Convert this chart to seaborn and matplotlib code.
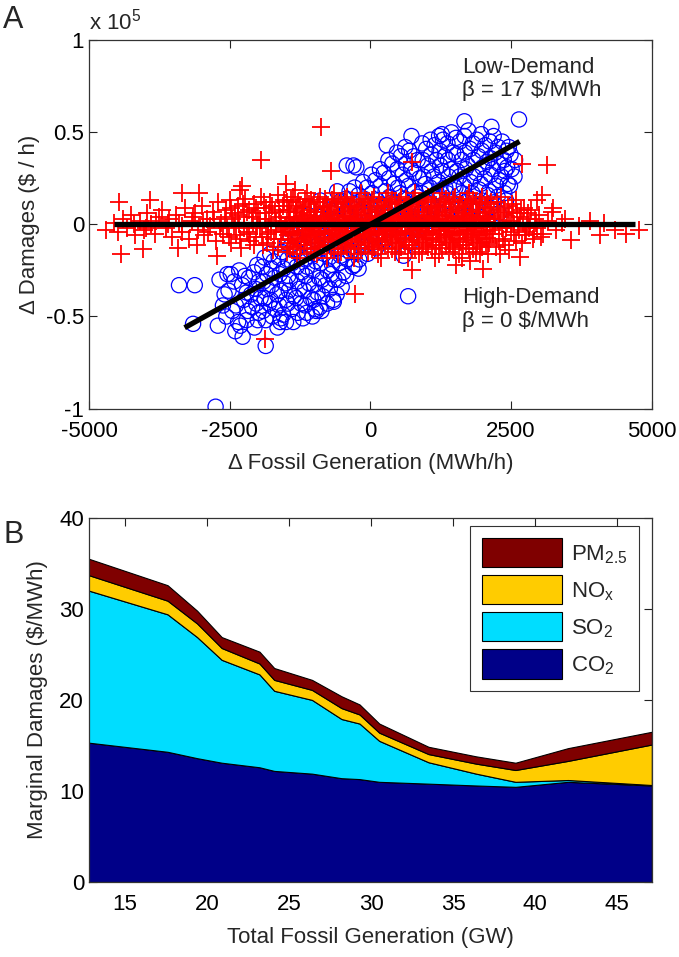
"""
Two-panel figure: marginal damages vs fossil generation.
A: hourly changes in damages vs changes in fossil generation (low / high demand)
B: stacked marginal damages by pollutant vs total fossil generation
"""

import matplotlib
matplotlib.use("Agg")
import matplotlib.pyplot as plt
import matplotlib.patches as mpatches
import numpy as np
import pandas as pd
import seaborn as sns

OUT = "out.png"

# ---- panel A data (x: MWh/h, y: $/h in units of 1e5) ----
low_demand_pts = [
    # sparse / outlying circles
    (-2750, -0.99), (-3400, -0.33), (-3120, -0.33), (-3150, -0.54), (-2710, -0.55),
    (-1860, -0.66), (-2270, -0.61), (670, -0.39), (2640, 0.57), (1670, 0.56),
    (730, 0.48), (290, 0.43), (2150, 0.53), (1270, 0.49), (-420, 0.32), (-250, 0.31),
    (2390, 0.29), (2460, 0.42), (-2540, -0.27), (-650, -0.42), (-960, -0.47),
    (-1500, -0.53), (-210, -0.24), (590, -0.17), (-2310, -0.55), (-1370, -0.53),
    (-1600, -0.53), (-980, -0.46), (-660, -0.41), (-890, 0.13), (-590, 0.18),
    (-300, 0.32), (-1100, 0.05),
    # main cloud
    (-2680, -0.30), (-2620, -0.44),
    (-2480, -0.27), (-2520, -0.36), (-2450, -0.47), (-2400, -0.58),
    (-2330, -0.25), (-2280, -0.33), (-2250, -0.41), (-2200, -0.52),
    (-2160, -0.29), (-2120, -0.38), (-2100, -0.45), (-2060, -0.56),
    (-2010, -0.22), (-1980, -0.31), (-1950, -0.40), (-1990, -0.48),
    (-1880, -0.18), (-1840, -0.27), (-1830, -0.35), (-1800, -0.43), (-1860, -0.52),
    (-1720, -0.20), (-1700, -0.29), (-1660, -0.38), (-1690, -0.46), (-1650, -0.56),
    (-1570, -0.15), (-1540, -0.24), (-1520, -0.32), (-1500, -0.41), (-1550, -0.49),
    (-1420, -0.12), (-1390, -0.21), (-1430, -0.30), (-1360, -0.39), (-1400, -0.46),
    (-1270, -0.08), (-1240, -0.17), (-1220, -0.26), (-1260, -0.35), (-1230, -0.43), (-1200, -0.51),
    (-1110, -0.05), (-1080, -0.14), (-1120, -0.23), (-1090, -0.32), (-1060, -0.40), (-1130, -0.48),
    (-950, -0.02), (-930, -0.11), (-970, -0.20), (-910, -0.29), (-940, -0.37), (-900, -0.45),
    (-810, 0.02), (-780, -0.07), (-820, -0.16), (-760, -0.25), (-800, -0.33), (-770, -0.43),
    (-660, 0.06), (-630, -0.04), (-610, -0.13), (-680, -0.22), (-640, -0.30), (-600, -0.38),
    (-520, 0.13), (-490, 0.01), (-470, -0.08), (-530, -0.17), (-480, -0.26), (-510, -0.34),
    (-370, 0.18), (-340, 0.04), (-330, -0.06), (-360, -0.15), (-320, -0.23),
    (-210, 0.16), (-180, 0.07), (-220, -0.02), (-170, -0.11), (-200, -0.19),
    (-60, 0.20), (-30, 0.10), (-70, 0.01), (-20, -0.08), (-50, -0.16),
    (90, 0.24), (120, 0.13), (80, 0.04), (130, -0.05), (100, -0.13),
    (240, 0.28), (270, 0.18), (230, 0.09), (280, 0.00), (250, -0.09),
    (390, 0.33), (420, 0.22), (380, 0.12), (430, 0.03), (400, -0.06),
    (540, 0.37), (570, 0.27), (530, 0.17), (580, 0.08), (560, -0.02),
    (690, 0.40), (720, 0.30), (680, 0.21), (730, 0.11), (700, 0.02), (710, -0.10),
    (840, 0.35), (870, 0.25), (830, 0.15), (880, 0.06), (850, -0.03),
    (990, 0.41), (1020, 0.32), (980, 0.22), (1030, 0.13), (1000, 0.04),
    (1140, 0.43), (1170, 0.35), (1130, 0.26), (1180, 0.17), (1150, 0.08),
    (1290, 0.46), (1320, 0.37), (1280, 0.29), (1330, 0.20), (1300, 0.11), (1310, 0.03),
    (1440, 0.50), (1470, 0.39), (1430, 0.30), (1480, 0.21), (1450, 0.12),
    (1590, 0.45), (1620, 0.35), (1580, 0.26), (1630, 0.17), (1600, 0.08),
    (1740, 0.51), (1770, 0.41), (1730, 0.32), (1780, 0.23), (1750, 0.14), (1760, 0.05),
    (1890, 0.46), (1920, 0.37), (1880, 0.28), (1930, 0.19), (1900, 0.10),
    (2040, 0.43), (2070, 0.34), (2030, 0.25), (2080, 0.16), (2050, 0.07),
    (2190, 0.48), (2220, 0.39), (2180, 0.30), (2230, 0.21), (2200, 0.12),
    (2340, 0.45), (2370, 0.35), (2330, 0.26), (2380, 0.17),
    (2490, 0.38), (2510, 0.30), (2480, 0.21),
    # filling in between
    (-2590, -0.38), (-2560, -0.50), (-2420, -0.31), (-2390, -0.44), (-2350, -0.53),
    (-2230, -0.28), (-2200, -0.37), (-2180, -0.47), (-2070, -0.26), (-2040, -0.35),
    (-2030, -0.43), (-2000, -0.52), (-1920, -0.23), (-1900, -0.31), (-1880, -0.40),
    (-1910, -0.47), (-1780, -0.16), (-1760, -0.24), (-1750, -0.33), (-1770, -0.41),
    (-1740, -0.50), (-1630, -0.18), (-1610, -0.27), (-1600, -0.36), (-1620, -0.44),
    (-1590, -0.51), (-1480, -0.10), (-1470, -0.19), (-1460, -0.28), (-1450, -0.36),
    (-1470, -0.43), (-1330, -0.06), (-1320, -0.14), (-1310, -0.23), (-1300, -0.31),
    (-1320, -0.40), (-1290, -0.48), (-1180, -0.03), (-1170, -0.10), (-1160, -0.19),
    (-1150, -0.28), (-1170, -0.36), (-1160, -0.44), (-1020, 0.00), (-1010, -0.08),
    (-1000, -0.16), (-1020, -0.25), (-1000, -0.33), (-1010, -0.41), (-1030, -0.50),
    (-880, 0.04), (-870, -0.04), (-860, -0.13), (-880, -0.21), (-860, -0.30),
    (-850, -0.39), (-870, -0.47), (-730, 0.08), (-720, -0.01), (-710, -0.10),
    (-730, -0.18), (-700, -0.27), (-720, -0.35), (-580, 0.10), (-570, 0.03),
    (-560, -0.05), (-580, -0.13), (-550, -0.21), (-570, -0.30), (-430, 0.14),
    (-420, 0.07), (-410, -0.03), (-440, -0.11), (-410, -0.19), (-430, -0.28),
    (-280, 0.20), (-270, 0.11), (-260, 0.02), (-290, -0.07), (-260, -0.15),
    (-280, -0.22), (-130, 0.23), (-120, 0.14), (-110, 0.05), (-140, -0.04),
    (-110, -0.12), (20, 0.27), (30, 0.17), (40, 0.08), (10, -0.01), (40, -0.10),
    (170, 0.30), (180, 0.21), (190, 0.11), (160, 0.02), (180, -0.06),
    (320, 0.35), (330, 0.25), (340, 0.15), (310, 0.06), (330, -0.03),
    (470, 0.39), (480, 0.30), (490, 0.20), (460, 0.11), (480, 0.02),
    (620, 0.42), (630, 0.33), (640, 0.24), (610, 0.14), (630, 0.05),
    (770, 0.37), (780, 0.28), (790, 0.18), (760, 0.09), (780, 0.00),
    (920, 0.44), (930, 0.35), (940, 0.26), (910, 0.17), (930, 0.08), (920, -0.01),
    (1070, 0.46), (1080, 0.38), (1090, 0.29), (1060, 0.20), (1080, 0.11), (1070, 0.02),
    (1220, 0.48), (1230, 0.40), (1240, 0.32), (1210, 0.23), (1230, 0.14), (1220, 0.06),
    (1370, 0.44), (1380, 0.35), (1390, 0.26), (1360, 0.17), (1380, 0.08),
    (1520, 0.47), (1530, 0.38), (1540, 0.29), (1510, 0.20), (1530, 0.11), (1520, 0.03),
    (1670, 0.48), (1680, 0.39), (1690, 0.30), (1660, 0.21), (1680, 0.12), (1670, 0.04),
    (1820, 0.44), (1830, 0.35), (1840, 0.26), (1810, 0.17), (1830, 0.08),
    (1970, 0.49), (1980, 0.40), (1990, 0.31), (1960, 0.22), (1980, 0.13), (1970, 0.04),
    (2120, 0.45), (2130, 0.36), (2140, 0.27), (2110, 0.18), (2130, 0.09),
    (2270, 0.42), (2280, 0.33), (2290, 0.24), (2260, 0.15), (2280, 0.06),
    (2420, 0.40), (2430, 0.31), (2440, 0.22), (2410, 0.13),
    (2570, 0.35), (2560, 0.26),
]

high_demand_pts = [
    # outlying crosses
    (-885, 0.53), (-1946, 0.35), (2692, 0.33), (3131, 0.32), (2962, 0.135),
    (3231, 0.07), (4154, 0.01), (4346, -0.03), (4769, -0.03), (4077, -0.06),
    (4538, -0.05), (3562, -0.085), (3023, -0.07), (2654, -0.175), (2000, -0.24),
    (1523, -0.22), (731, -0.245), (-269, -0.38), (-1869, -0.62), (-4462, 0.12),
    (-3923, 0.13), (-4423, -0.16), (-4038, -0.135), (-4692, -0.03), (-3423, -0.13),
    (-3346, 0.17), (-3038, 0.17), (-2308, 0.185), (-1500, 0.22), (-1346, 0.185),
    (-692, 0.29), (731, 0.34), (-2717, -0.17), (-3072, -0.11), (-2273, 0.21),
    (3410, 0.01), (3250, 0.09), (3055, 0.16), (2309, -0.16), (1776, -0.20),
    # left wing
    (-4560, 0.01), (-4480, -0.04), (-4400, 0.03), (-4320, -0.02), (-4250, 0.05),
    (-4180, -0.06), (-4100, 0.02), (-4030, -0.03), (-3960, 0.06), (-3890, 0.00),
    (-3820, -0.05), (-3760, 0.04), (-3700, 0.08), (-3640, -0.02), (-3580, 0.03),
    (-3520, -0.07), (-3460, 0.05), (-3400, 0.01), (-3340, -0.04), (-3290, 0.09),
    (-3230, -0.08), (-3170, 0.02), (-3110, 0.06), (-3060, -0.03), (-3000, 0.10),
    (-2950, -0.06), (-2900, 0.03), (-2850, -0.01), (-2800, 0.07), (-2750, -0.09),
    (-2700, 0.12), (-2650, 0.01), (-2610, -0.05),
    (-4200, 0.00), (-3980, -0.02), (-3800, 0.02), (-3600, 0.00), (-3350, -0.01),
    (-3150, 0.04), (-2980, 0.01), (-2880, -0.04), (-2780, 0.03), (-2680, -0.02),
    (-2560, 0.08), (-2540, -0.02), (-2500, 0.13), (-2480, -0.10), (-2450, 0.03),
    (-2400, 0.06), (-2380, -0.06), (-2350, 0.10), (-2330, 0.00), (-2290, -0.13),
    (-2250, 0.04), (-2220, 0.14), (-2190, -0.04), (-2160, 0.08), (-2130, -0.09),
    (-2090, 0.01), (-2060, 0.11), (-2030, -0.07), (-2000, 0.06), (-1970, -0.02),
    (-1940, 0.15), (-1910, -0.11), (-1880, 0.03), (-1850, 0.09), (-1820, -0.05),
    (-1790, 0.12), (-1760, 0.00), (-1730, -0.14), (-1700, 0.07), (-1670, -0.03),
    (-1640, 0.16), (-1610, 0.04), (-1580, -0.08), (-1550, 0.10), (-1520, -0.01),
    (-2590, 0.04), (-2520, -0.07), (-2470, 0.09), (-2420, -0.01), (-2360, 0.05),
    (-2310, -0.08), (-2270, 0.11), (-2240, -0.02), (-2200, 0.07), (-2150, -0.05),
    (-2110, 0.04), (-2070, -0.11), (-2040, 0.09), (-2010, -0.01), (-1960, 0.03),
    (-1930, -0.07), (-1890, 0.12), (-1860, 0.00), (-1830, -0.10), (-1800, 0.06),
    (-1770, -0.04), (-1740, 0.10), (-1710, -0.08), (-1680, 0.02), (-1650, -0.12),
    (-1620, 0.08), (-1590, 0.00), (-1560, -0.04), (-1530, 0.13),
    # dense core
    (-1490, -0.15), (-1470, -0.10), (-1460, -0.06), (-1500, -0.02), (-1480, 0.02), (-1450, 0.07), (-1490, 0.12),
    (-1370, -0.12), (-1340, -0.08), (-1380, -0.04), (-1350, 0.00), (-1360, 0.04), (-1330, 0.09), (-1370, 0.15),
    (-1250, -0.18), (-1230, -0.11), (-1220, -0.05), (-1260, -0.01), (-1240, 0.03), (-1210, 0.06), (-1250, 0.10),
    (-1130, -0.13), (-1100, -0.07), (-1140, -0.03), (-1110, 0.01), (-1120, 0.05), (-1090, 0.11), (-1130, 0.17),
    (-1010, -0.15), (-990, -0.10), (-980, -0.06), (-1020, -0.02), (-1000, 0.02), (-970, 0.07), (-1010, 0.12),
    (-890, -0.12), (-860, -0.08), (-900, -0.04), (-870, 0.00), (-880, 0.04), (-850, 0.09), (-890, 0.15),
    (-770, -0.18), (-750, -0.11), (-740, -0.05), (-780, -0.01), (-760, 0.03), (-730, 0.06), (-770, 0.10),
    (-650, -0.13), (-620, -0.07), (-660, -0.03), (-630, 0.01), (-640, 0.05), (-610, 0.11), (-650, 0.17),
    (-530, -0.15), (-510, -0.10), (-500, -0.06), (-540, -0.02), (-520, 0.02), (-490, 0.07), (-530, 0.12),
    (-410, -0.12), (-380, -0.08), (-420, -0.04), (-390, 0.00), (-400, 0.04), (-370, 0.09), (-410, 0.15),
    (-290, -0.18), (-270, -0.11), (-260, -0.05), (-300, -0.01), (-280, 0.03), (-250, 0.06), (-290, 0.10),
    (-170, -0.13), (-140, -0.07), (-180, -0.03), (-150, 0.01), (-160, 0.05), (-130, 0.11), (-170, 0.17),
    (-50, -0.15), (-30, -0.10), (-20, -0.06), (-60, -0.02), (-40, 0.02), (-10, 0.07), (-50, 0.12),
    (70, -0.12), (100, -0.08), (60, -0.04), (90, 0.00), (80, 0.04), (110, 0.09), (70, 0.15),
    (190, -0.18), (210, -0.11), (220, -0.05), (180, -0.01), (200, 0.03), (230, 0.06), (190, 0.10),
    (310, -0.13), (340, -0.07), (300, -0.03), (330, 0.01), (320, 0.05), (350, 0.11), (310, 0.17),
    (430, -0.15), (450, -0.10), (460, -0.06), (420, -0.02), (440, 0.02), (470, 0.07), (430, 0.12),
    (550, -0.12), (580, -0.08), (540, -0.04), (570, 0.00), (560, 0.04), (590, 0.09), (550, 0.15),
    (670, -0.18), (690, -0.11), (700, -0.05), (660, -0.01), (680, 0.03), (710, 0.06), (670, 0.10),
    (790, -0.13), (820, -0.07), (780, -0.03), (810, 0.01), (800, 0.05), (830, 0.11), (790, 0.17),
    (910, -0.15), (930, -0.10), (940, -0.06), (900, -0.02), (920, 0.02), (950, 0.07), (910, 0.12),
    (1030, -0.12), (1060, -0.08), (1020, -0.04), (1050, 0.00), (1040, 0.04), (1070, 0.09), (1030, 0.15),
    (1150, -0.18), (1170, -0.11), (1180, -0.05), (1140, -0.01), (1160, 0.03), (1190, 0.06), (1150, 0.10),
    (1270, -0.13), (1300, -0.07), (1260, -0.03), (1290, 0.01), (1280, 0.05), (1310, 0.11), (1270, 0.17),
    (1390, -0.15), (1410, -0.10), (1420, -0.06), (1380, -0.02), (1400, 0.02), (1430, 0.07), (1390, 0.12),
    (1510, -0.12), (1540, -0.08), (1500, -0.04), (1530, 0.00), (1520, 0.04), (1550, 0.09), (1510, 0.15),
    (1630, -0.18), (1650, -0.11), (1660, -0.05), (1620, -0.01), (1640, 0.03), (1670, 0.06), (1630, 0.10),
    (1750, -0.13), (1780, -0.07), (1740, -0.03), (1770, 0.01), (1760, 0.05), (1790, 0.11), (1750, 0.17),
    (1870, -0.15), (1890, -0.10), (1900, -0.06), (1860, -0.02), (1880, 0.02), (1910, 0.07), (1870, 0.12),
    (1990, -0.12), (2020, -0.08), (1980, -0.04), (2010, 0.00), (2000, 0.04), (2030, 0.09), (1990, 0.15),
    (2090, -0.16), (2110, -0.10), (2120, -0.05), (2080, -0.01), (2100, 0.03), (2130, 0.06), (2090, 0.11),
    # dense core, second pass
    (-1420, -0.135), (-1410, -0.085), (-1430, -0.045), (-1400, -0.005), (-1420, 0.035), (-1440, 0.08), (-1410, 0.135),
    (-1300, -0.16), (-1290, -0.095), (-1310, -0.055), (-1280, -0.015), (-1300, 0.025), (-1320, 0.065), (-1290, 0.12),
    (-1180, -0.11), (-1170, -0.075), (-1190, -0.035), (-1160, 0.015), (-1180, 0.045), (-1200, 0.095), (-1170, 0.14),
    (-1060, -0.135), (-1050, -0.085), (-1070, -0.045), (-1040, -0.005), (-1060, 0.035), (-1080, 0.08), (-1050, 0.135),
    (-940, -0.16), (-930, -0.095), (-950, -0.055), (-920, -0.015), (-940, 0.025), (-960, 0.065), (-930, 0.12),
    (-820, -0.11), (-810, -0.075), (-830, -0.035), (-800, 0.015), (-820, 0.045), (-840, 0.095), (-810, 0.14),
    (-700, -0.135), (-690, -0.085), (-710, -0.045), (-680, -0.005), (-700, 0.035), (-720, 0.08), (-690, 0.135),
    (-580, -0.16), (-570, -0.095), (-590, -0.055), (-560, -0.015), (-580, 0.025), (-600, 0.065), (-570, 0.12),
    (-460, -0.11), (-450, -0.075), (-470, -0.035), (-440, 0.015), (-460, 0.045), (-480, 0.095), (-450, 0.14),
    (-340, -0.135), (-330, -0.085), (-350, -0.045), (-320, -0.005), (-340, 0.035), (-360, 0.08), (-330, 0.135),
    (-220, -0.16), (-210, -0.095), (-230, -0.055), (-200, -0.015), (-220, 0.025), (-240, 0.065), (-210, 0.12),
    (-100, -0.11), (-90, -0.075), (-110, -0.035), (-80, 0.015), (-100, 0.045), (-120, 0.095), (-90, 0.14),
    (20, -0.135), (30, -0.085), (10, -0.045), (40, -0.005), (20, 0.035), (0, 0.08), (30, 0.135),
    (140, -0.16), (150, -0.095), (130, -0.055), (160, -0.015), (140, 0.025), (120, 0.065), (150, 0.12),
    (260, -0.11), (270, -0.075), (250, -0.035), (280, 0.015), (260, 0.045), (240, 0.095), (270, 0.14),
    (380, -0.135), (390, -0.085), (370, -0.045), (400, -0.005), (380, 0.035), (360, 0.08), (390, 0.135),
    (500, -0.16), (510, -0.095), (490, -0.055), (520, -0.015), (500, 0.025), (480, 0.065), (510, 0.12),
    (620, -0.11), (630, -0.075), (610, -0.035), (640, 0.015), (620, 0.045), (600, 0.095), (630, 0.14),
    (740, -0.135), (750, -0.085), (730, -0.045), (760, -0.005), (740, 0.035), (720, 0.08), (750, 0.135),
    (860, -0.16), (870, -0.095), (850, -0.055), (880, -0.015), (860, 0.025), (840, 0.065), (870, 0.12),
    (980, -0.11), (990, -0.075), (970, -0.035), (1000, 0.015), (980, 0.045), (960, 0.095), (990, 0.14),
    (1100, -0.135), (1110, -0.085), (1090, -0.045), (1120, -0.005), (1100, 0.035), (1080, 0.08), (1110, 0.135),
    (1220, -0.16), (1230, -0.095), (1210, -0.055), (1240, -0.015), (1220, 0.025), (1200, 0.065), (1230, 0.12),
    (1340, -0.11), (1350, -0.075), (1330, -0.035), (1360, 0.015), (1340, 0.045), (1320, 0.095), (1350, 0.14),
    (1460, -0.135), (1470, -0.085), (1450, -0.045), (1480, -0.005), (1460, 0.035), (1440, 0.08), (1470, 0.135),
    (1580, -0.16), (1590, -0.095), (1570, -0.055), (1600, -0.015), (1580, 0.025), (1560, 0.065), (1590, 0.12),
    (1700, -0.11), (1710, -0.075), (1690, -0.035), (1720, 0.015), (1700, 0.045), (1680, 0.095), (1710, 0.14),
    (1820, -0.135), (1830, -0.085), (1810, -0.045), (1840, -0.005), (1820, 0.035), (1800, 0.08), (1830, 0.135),
    (1940, -0.16), (1950, -0.095), (1930, -0.055), (1960, -0.015), (1940, 0.025), (1920, 0.065), (1950, 0.12),
    (2060, -0.11), (2070, -0.075), (2050, -0.035), (2080, 0.015), (2060, 0.045), (2040, 0.095), (2070, 0.14),
    # right wing
    (2150, 0.12), (2180, -0.05), (2200, 0.03), (2230, -0.12), (2260, 0.08),
    (2290, 0.00), (2320, 0.15), (2350, -0.08), (2380, 0.05), (2410, -0.02),
    (2440, 0.10), (2470, -0.14), (2500, 0.02), (2530, 0.07), (2560, -0.06),
    (2590, 0.13), (2620, -0.01), (2650, 0.04), (2690, -0.10), (2720, 0.09),
    (2760, -0.04), (2800, 0.06), (2840, 0.01), (2880, -0.08), (2920, 0.03),
    (2960, -0.02), (3000, 0.05), (3070, -0.05), (3150, 0.02), (3300, -0.03),
    (3450, 0.03), (3700, -0.01), (3900, 0.02),
    (2160, -0.03), (2190, 0.07), (2220, 0.00), (2250, 0.12), (2280, -0.09),
    (2310, 0.04), (2340, -0.02), (2370, 0.09), (2400, -0.11), (2430, 0.01),
    (2460, 0.06), (2490, -0.04), (2520, 0.11), (2550, 0.00), (2580, -0.09),
    (2610, 0.06), (2640, -0.03), (2670, 0.08), (2710, 0.01), (2740, -0.06),
    (2780, 0.03), (2820, -0.02), (2860, 0.08), (2900, -0.05), (2940, 0.01),
]

# fitted slopes ($/MWh) and the x-span of each fit line
beta_low = 17
beta_high = 0
low_fit_span = [-3300, 2650]
high_fit_span = [-4550, 4700]

# ---- panel B data: marginal damages by pollutant ($/MWh) ----
total_gen_gw = [12.81, 17.6, 19.4, 20.9, 23.2, 24.1, 26.4, 28.2, 29.3, 30.5,
                33.5, 36.4, 38.8, 42.0, 47.11]
co2 = [15.3, 14.3, 13.6, 13.1, 12.6, 12.2, 11.9, 11.4, 11.3, 11.0,
       10.8, 10.6, 10.45, 11.0, 10.6]
so2 = [16.7, 15.1, 13.3, 11.3, 10.2, 8.8, 8.1, 6.5, 6.1, 4.5,
       2.35, 1.3, 0.55, 0.2, 0.05]
nox = [1.7, 1.5, 1.5, 1.3, 1.2, 1.2, 1.1, 1.2, 1.0, 0.9,
       0.9, 1.1, 1.3, 2.1, 4.45]
pm25 = [1.8, 1.7, 1.4, 1.2, 1.3, 1.3, 1.1, 1.3, 1.1, 1.0,
        0.8, 0.8, 0.8, 1.4, 1.4]

pollutant_labels = ["CO$_2$", "SO$_2$", r"NO$_\mathrm{x}$", "PM$_{2.5}$"]
pollutant_colors = ["#000088", "#00DDFF", "#FFCC00", "#7F0000"]


def style_axes(ax):
    ax.tick_params(direction="in", top=True, right=True, length=6, width=0.8,
                   labelsize=16, colors="#222222", labelcolor="black")
    for sp in ax.spines.values():
        sp.set_visible(True)
        sp.set_linewidth(0.9)
        sp.set_color("#333333")


def main():
    sns.set_style("ticks")
    plt.rcParams["font.family"] = ["Liberation Sans", "DejaVu Sans"]
    plt.rcParams["mathtext.fontset"] = "custom"
    plt.rcParams["mathtext.rm"] = "Liberation Sans"
    plt.rcParams["mathtext.it"] = "Liberation Sans:italic"
    plt.rcParams["font.size"] = 16

    low = pd.DataFrame(low_demand_pts, columns=["gen", "dmg"])
    high = pd.DataFrame(high_demand_pts, columns=["gen", "dmg"])

    fig = plt.figure(figsize=(6.79, 9.57), dpi=100)
    ax_a = fig.add_axes([0.131, 0.5731, 0.829, 0.3848])
    ax_b = fig.add_axes([0.131, 0.0784, 0.829, 0.3805])

    # Panel A
    sns.scatterplot(data=low, x="gen", y="dmg", ax=ax_a, marker="o", s=120,
                    facecolor="none", edgecolor="#0000FF", linewidth=0.9, zorder=2)
    sns.scatterplot(data=high, x="gen", y="dmg", ax=ax_a, marker="+", s=150,
                    color="#FF0000", linewidth=1.3, zorder=3)

    lx = np.array(low_fit_span)
    hx = np.array(high_fit_span)
    ax_a.plot(lx, beta_low * lx / 1e5, color="black", lw=3.8, zorder=4,
              solid_capstyle="butt")
    ax_a.plot(hx, beta_high * hx / 1e5, color="black", lw=3.8, zorder=4,
              solid_capstyle="butt")

    ax_a.set_xlim(-5000, 5000)
    ax_a.set_ylim(-1, 1)
    ax_a.set_xticks([-5000, -2500, 0, 2500, 5000])
    ax_a.set_yticks([-1, -0.5, 0, 0.5, 1])
    ax_a.set_yticklabels(["-1", "-0.5", "0", "0.5", "1"])
    ax_a.set_xticklabels(["-5000", "-2500", "0", "2500", "5000"])
    ax_a.set_xlabel("\u0394 Fossil Generation (MWh/h)", fontsize=16, labelpad=8)
    ax_a.set_ylabel("\u0394 Damages ($ / h)", fontsize=16, labelpad=4)
    style_axes(ax_a)
    ax_a.tick_params(axis="x", pad=9)

    ax_a.text(1634, 0.91, "Low-Demand\n\u03b2 = 17 $/MWh", fontsize=16,
              va="top", ha="left", linespacing=1.15)
    ax_a.text(1634, -0.342, "High-Demand\n\u03b2 = 0 $/MWh", fontsize=16,
              va="top", ha="left", linespacing=1.15)
    ax_a.text(0.0, 1.015, r"x 10$^{5}$", transform=ax_a.transAxes, fontsize=16,
              va="bottom", ha="left")

    # Panel B
    ax_b.stackplot(total_gen_gw, co2, so2, nox, pm25, colors=pollutant_colors,
                   edgecolor="black", linewidth=0.8)
    ax_b.set_xlim(total_gen_gw[0], total_gen_gw[-1])
    ax_b.set_ylim(0, 40)
    ax_b.set_xticks([15, 20, 25, 30, 35, 40, 45])
    ax_b.set_yticks([0, 10, 20, 30, 40])
    ax_b.set_xlabel("Total Fossil Generation (GW)", fontsize=16, labelpad=8)
    ax_b.set_ylabel("Marginal Damages ($/MWh)", fontsize=16, labelpad=8)
    style_axes(ax_b)
    ax_b.tick_params(axis="x", pad=9)

    handles = [mpatches.Patch(facecolor=c, edgecolor="black", linewidth=0.8)
               for c in pollutant_colors]
    leg = ax_b.legend(handles[::-1], pollutant_labels[::-1], loc="upper right",
                      bbox_to_anchor=(0.978, 0.978), borderaxespad=0.0,
                      fontsize=16, frameon=True, fancybox=False,
                      edgecolor="black", handlelength=3.6, handleheight=1.65,
                      handletextpad=0.4, labelspacing=0.35, borderpad=0.55)
    leg.get_frame().set_linewidth(0.8)

    fig.text(0.005, 0.995, "A", fontsize=22, va="top", ha="left")
    fig.text(0.005, 1 - 520 / 957, "B", fontsize=22, va="top", ha="left")

    fig.savefig(OUT, dpi=100)
    plt.close(fig)


if __name__ == "__main__":
    main()
